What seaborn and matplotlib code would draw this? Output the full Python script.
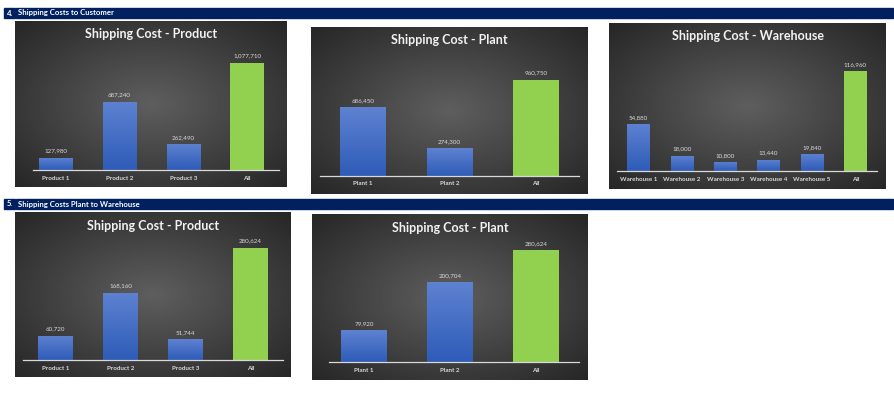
import numpy as np
import matplotlib
matplotlib.use("Agg")
import matplotlib.pyplot as plt
import seaborn as sns
from matplotlib.patches import Rectangle

# data
product_cats = ["Product 1", "Product 2", "Product 3", "All"]
plant_cats = ["Plant 1", "Plant 2", "All"]
warehouse_cats = ["Warehouse 1", "Warehouse 2", "Warehouse 3", "Warehouse 4", "Warehouse 5", "All"]

cust_product = [127980, 687240, 262490, 1077710]
cust_plant = [686450, 274300, 960750]
cust_warehouse = [54880, 18000, 10800, 13440, 19840, 116960]
pw_product = [60720, 168160, 51744, 280624]
pw_plant = [79920, 200704, 280624]

section_titles = ["Shipping Costs to Customer", "Shipping Costs Plant to Warehouse"]
section_nums = ["4.", "5."]

W, H = 894, 399
NAVY = "#002060"
GREEN = "#92d050"
BLUE_TOP = np.array([0.37, 0.51, 0.82])
BLUE_BOT = np.array([0.18, 0.36, 0.72])
LIGHT = "#d9d9d9"

plt.rcParams["font.family"] = ["Lato", "DejaVu Sans"]

fig = plt.figure(figsize=(W / 100, H / 100), dpi=100)
fig.patch.set_facecolor("white")


def px_axes(x0, y0, x1, y1):
    return fig.add_axes([x0 / W, 1 - y1 / H, (x1 - x0) / W, (y1 - y0) / H])


def section_header(y0, y1, num, title):
    fig.patches.append(Rectangle((4 / W, 1 - y1 / H), 11 / W, (y1 - y0) / H,
                                 transform=fig.transFigure, color=NAVY))
    fig.patches.append(Rectangle((16 / W, 1 - y1 / H), 877 / W, (y1 - y0) / H,
                                 transform=fig.transFigure, color=NAVY))
    yc = 1 - (y0 + y1) / 2 / H
    fig.text(7 / W, yc, num, color="white", fontsize=5.5, fontweight="bold", va="center")
    fig.text(17.5 / W, yc, title, color="white", fontsize=5.6, fontweight="bold", va="center")


def chart(box, base_y, xext, line_start, ymax, title, cats, vals):
    x0, y0, x1, y1 = box
    # radial gradient background
    bg = px_axes(x0, y0, x1, y1)
    yy, xx = np.mgrid[-1:1:200j, -1:1:300j]
    r = np.clip(np.sqrt(xx ** 2 + yy ** 2) / np.sqrt(2), 0, 1)
    shade = 0.37 - 0.22 * r
    bg.imshow(shade, cmap="gray", vmin=0, vmax=1, aspect="auto", extent=[0, 1, 0, 1])
    bg.set_axis_off()
    bg.text(0.5, 1 - 13.5 / (y1 - y0), title, transform=bg.transAxes, ha="center", va="center",
            color="#f2f2f2", fontsize=9, fontweight="bold")

    ax = px_axes(xext[0], base_y - 120, xext[1], base_y)
    ax.set_facecolor("none")
    colors = ["#4472c4"] * (len(cats) - 1) + [GREEN]
    sns.barplot(x=cats, y=vals, hue=cats, palette=colors, legend=False, width=0.526,
                ax=ax, saturation=1)

    grad = np.linspace(0, 1, 100)[:, None, None]
    img = BLUE_BOT * (1 - grad) + BLUE_TOP * grad
    for i, p in enumerate(ax.patches[:len(cats)]):
        if cats[i] == "All":
            continue
        bx, by = p.get_x(), p.get_y()
        bw, bh = p.get_width(), p.get_height()
        im = ax.imshow(img, extent=[bx, bx + bw, by, by + bh], origin="lower",
                       aspect="auto", zorder=p.get_zorder() + 0.1)
        im.set_clip_path(p)
    ax.set_xlim(-0.5, len(cats) - 0.5)
    ax.set_ylim(0, ymax)

    for c in ax.containers:
        ax.bar_label(c, labels=[f"{v:,.0f}" for v in c.datavalues], padding=3,
                     color=LIGHT, fontsize=4.5)

    for s in ax.spines.values():
        s.set_visible(False)
    start = (line_start - xext[0]) / (xext[1] - xext[0])
    ax.axhline(0, xmin=start, xmax=1, color=LIGHT, linewidth=0.9, zorder=5, clip_on=False)
    ax.set_yticks([])
    ax.tick_params(axis="x", length=0, pad=4, labelsize=4.5, labelcolor=LIGHT)
    for t in ax.get_xticklabels():
        t.set_fontweight("bold")
    ax.set_xlabel("")
    ax.set_ylabel("")


section_header(8, 18, section_nums[0], section_titles[0])
section_header(199, 209, section_nums[1], section_titles[1])

chart((15, 21, 287, 187), 170.3, (24, 279), 33, 1200000, "Shipping Cost - Product", product_cats, cust_product)
chart((311, 27, 588, 194), 175.7, (320, 579), 320, 1200000, "Shipping Cost - Plant", plant_cats, cust_plant)
chart((609, 23, 886, 189), 171.3, (617, 877), 617, 140000, "Shipping Cost - Warehouse", warehouse_cats, cust_warehouse)
chart((15, 212, 291, 377), 360, (23, 283), 23, 300000, "Shipping Cost - Product", product_cats, pw_product)
chart((312, 214, 588, 380), 362.3, (321, 579), 329, 300000, "Shipping Cost - Plant", plant_cats, pw_plant)

fig.savefig("out.png", dpi=100)
